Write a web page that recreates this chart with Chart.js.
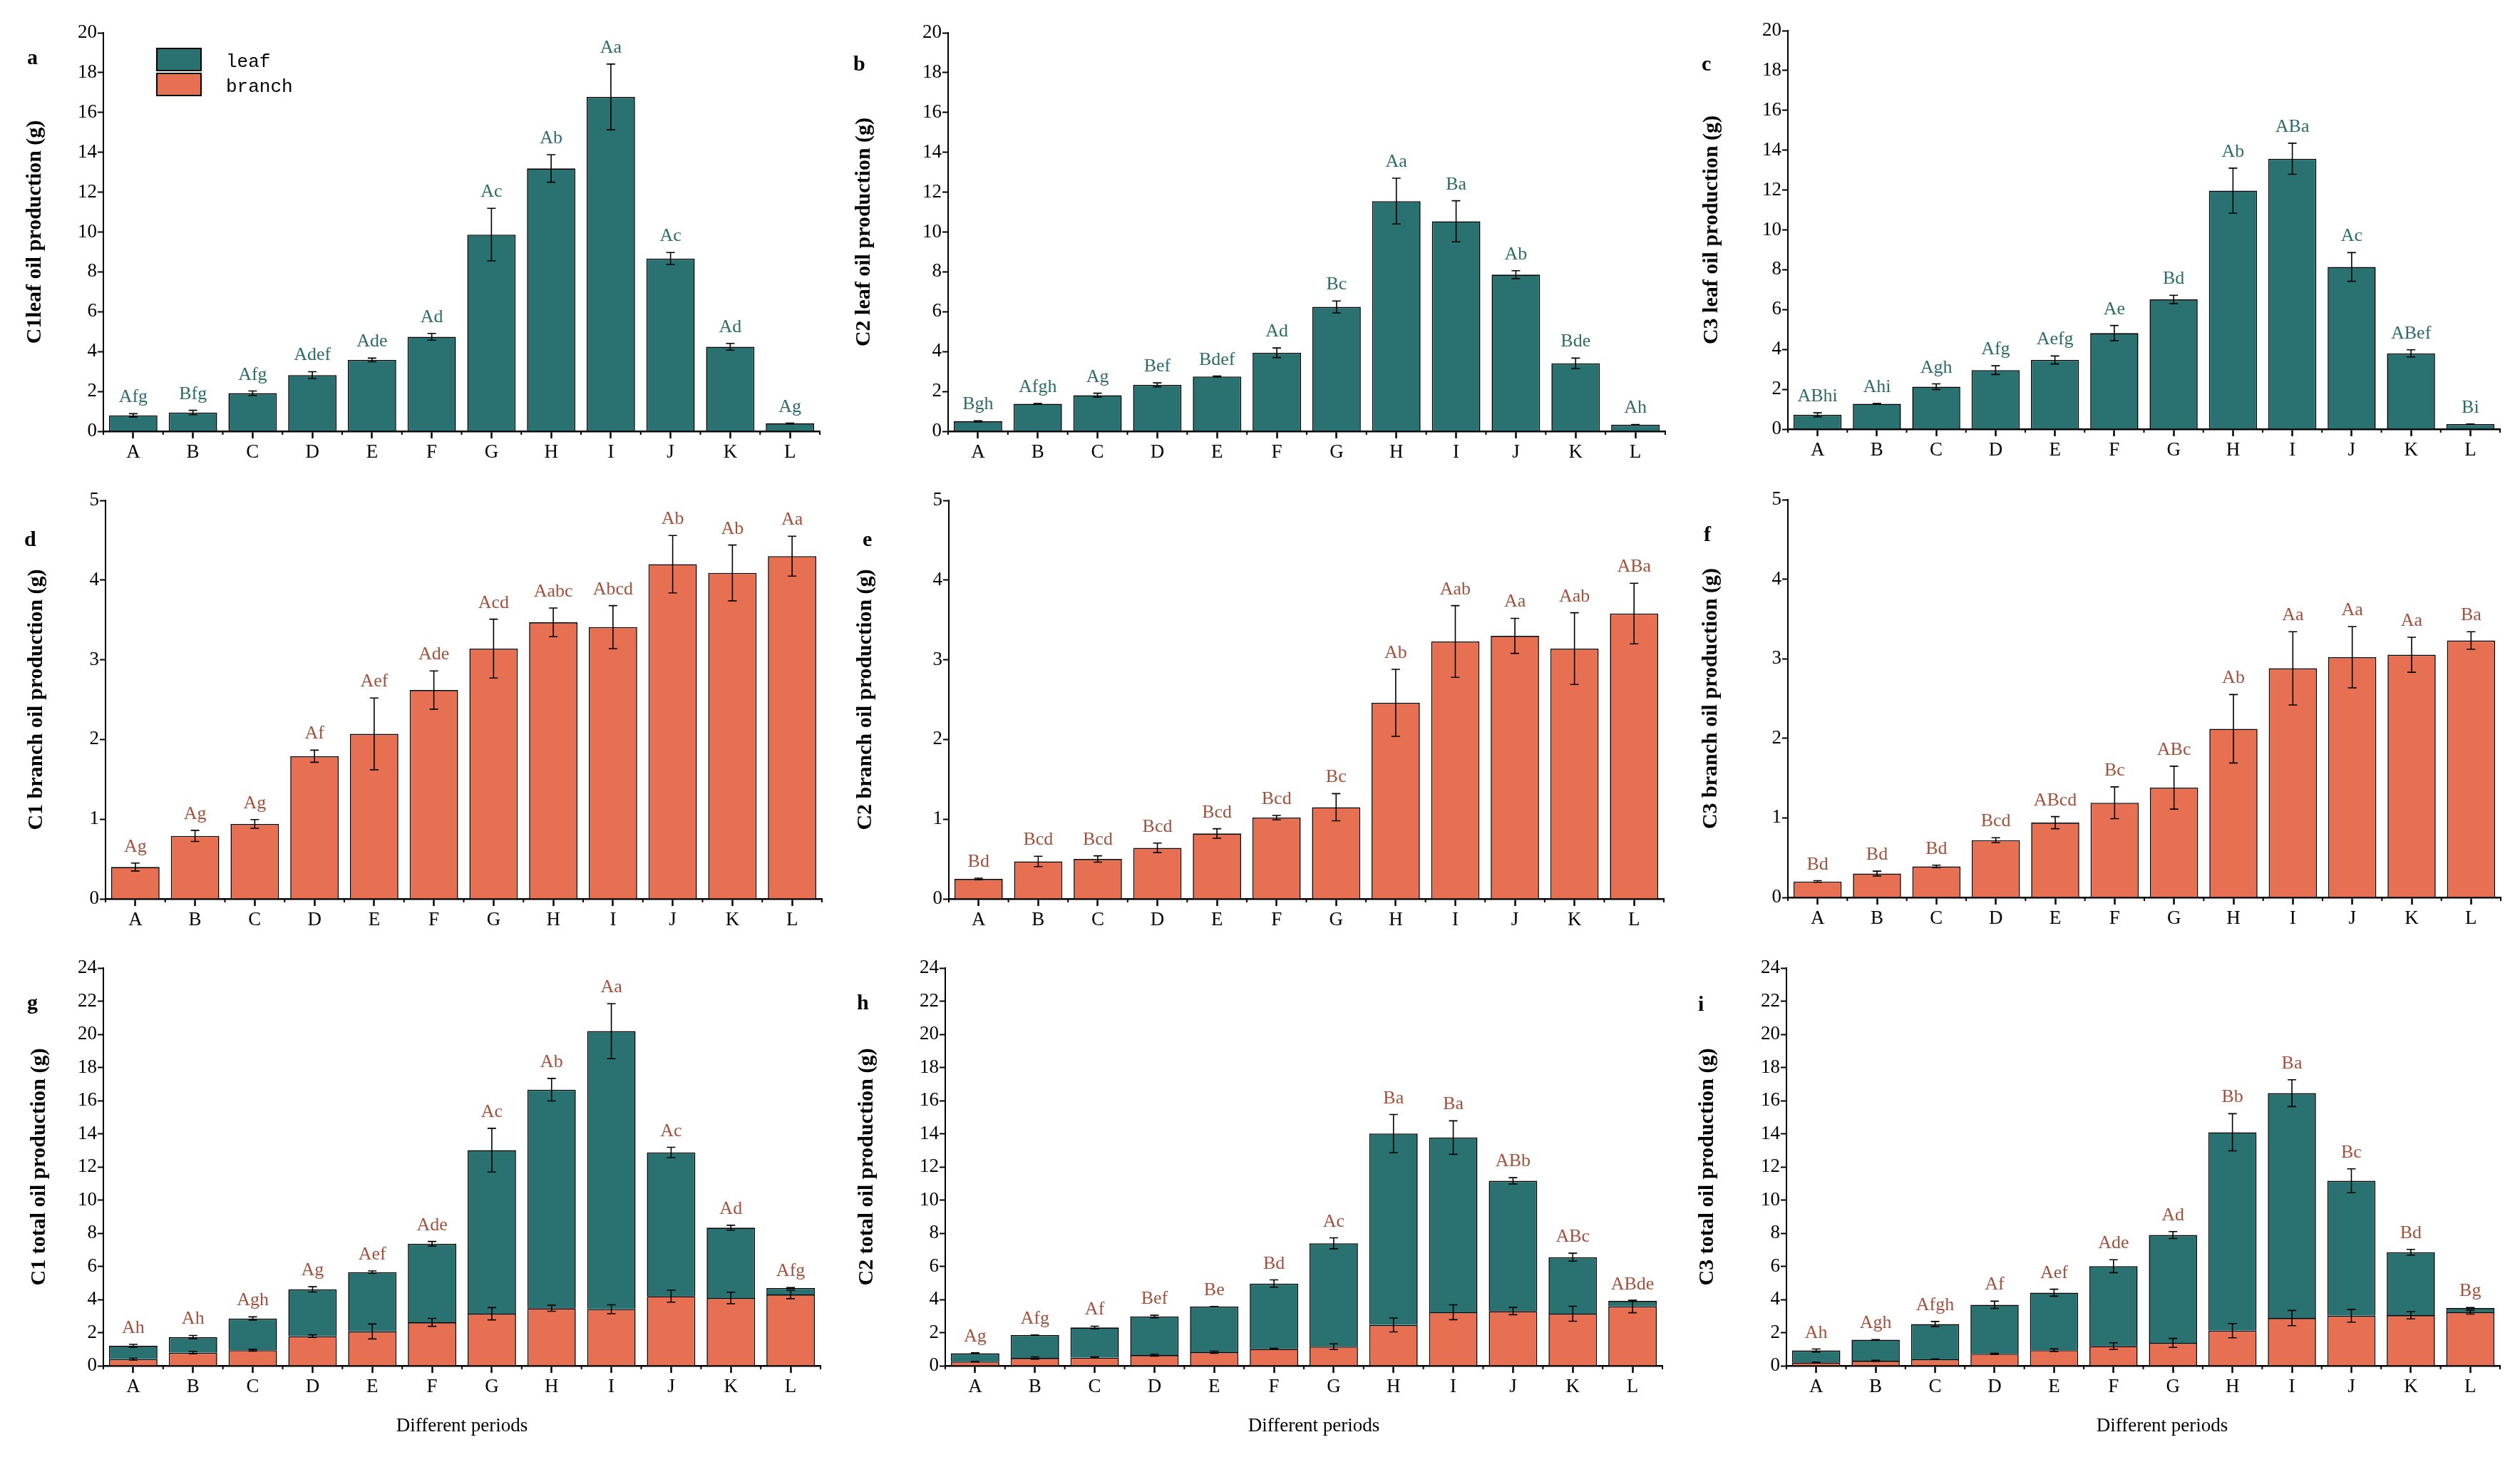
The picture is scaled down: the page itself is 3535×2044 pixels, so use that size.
<!DOCTYPE html>
<html>
<head>
<meta charset="utf-8">
<script src="https://cdn.jsdelivr.net/npm/chart.js@4.4.1/dist/chart.umd.min.js"></script>
<style>
  html, body { margin: 0; padding: 0; background: #fff; }
  body { width: 3535px; height: 2044px; position: relative; overflow: hidden; }
  canvas { position: absolute; }
</style>
</head>
<body>
<script>
// ── Data (g) ──────────────────────────────────────────────────────
const periods = ['A', 'B', 'C', 'D', 'E', 'F', 'G', 'H', 'I', 'J', 'K', 'L'];

const leafC1    = [0.80, 0.94, 1.91, 2.82, 3.58, 4.74, 9.87, 13.19, 16.78, 8.67, 4.24, 0.39];
const leafC1Err = [0.08, 0.11, 0.11, 0.17, 0.09, 0.17, 1.32, 0.69, 1.65, 0.30, 0.17, 0.02];
const leafC1Sig = ['Afg', 'Bfg', 'Afg', 'Adef', 'Ade', 'Ad', 'Ac', 'Ab', 'Aa', 'Ac', 'Ad', 'Ag'];

const leafC2    = [0.50, 1.38, 1.81, 2.33, 2.75, 3.94, 6.24, 11.55, 10.54, 7.86, 3.41, 0.33];
const leafC2Err = [0.03, 0.01, 0.10, 0.10, 0.02, 0.24, 0.30, 1.15, 1.03, 0.20, 0.26, 0.01];
const leafC2Sig = ['Bgh', 'Afgh', 'Ag', 'Bef', 'Bdef', 'Ad', 'Bc', 'Aa', 'Ba', 'Ab', 'Bde', 'Ah'];

const leafC3    = [0.72, 1.27, 2.13, 2.96, 3.47, 4.82, 6.51, 11.97, 13.57, 8.14, 3.80, 0.25];
const leafC3Err = [0.10, 0.02, 0.14, 0.22, 0.20, 0.38, 0.21, 1.13, 0.78, 0.72, 0.18, 0.01];
const leafC3Sig = ['ABhi', 'Ahi', 'Agh', 'Afg', 'Aefg', 'Ae', 'Bd', 'Ab', 'ABa', 'Ac', 'ABef', 'Bi'];

const branchC1    = [0.40, 0.79, 0.94, 1.79, 2.07, 2.62, 3.14, 3.47, 3.41, 4.20, 4.09, 4.30];
const branchC1Err = [0.05, 0.07, 0.055, 0.076, 0.45, 0.24, 0.37, 0.18, 0.27, 0.36, 0.35, 0.25];
const branchC1Sig = ['Ag', 'Ag', 'Ag', 'Af', 'Aef', 'Ade', 'Acd', 'Aabc', 'Abcd', 'Ab', 'Ab', 'Aa'];

const branchC2    = [0.25, 0.47, 0.50, 0.64, 0.82, 1.02, 1.15, 2.46, 3.23, 3.30, 3.14, 3.58];
const branchC2Err = [0.01, 0.065, 0.04, 0.06, 0.06, 0.027, 0.17, 0.42, 0.45, 0.22, 0.45, 0.38];
const branchC2Sig = ['Bd', 'Bcd', 'Bcd', 'Bcd', 'Bcd', 'Bcd', 'Bc', 'Ab', 'Aab', 'Aa', 'Aab', 'ABa'];

const branchC3    = [0.20, 0.30, 0.39, 0.72, 0.94, 1.19, 1.38, 2.12, 2.88, 3.02, 3.05, 3.23];
const branchC3Err = [0.01, 0.03, 0.015, 0.03, 0.076, 0.20, 0.27, 0.43, 0.46, 0.385, 0.22, 0.11];
const branchC3Sig = ['Bd', 'Bd', 'Bd', 'Bcd', 'ABcd', 'Bc', 'ABc', 'Ab', 'Aa', 'Aa', 'Aa', 'Ba'];

// totals are leaf + branch stacked; only their error bars and letters are separate
const totalC1Err = [0.09, 0.10, 0.10, 0.16, 0.07, 0.14, 1.32, 0.68, 1.66, 0.31, 0.15, 0.03];
const totalC1Sig = ['Ah', 'Ah', 'Agh', 'Ag', 'Aef', 'Ade', 'Ac', 'Ab', 'Aa', 'Ac', 'Ad', 'Afg'];

const totalC2Err = [0.03, 0.01, 0.08, 0.08, 0.01, 0.22, 0.33, 1.15, 1.01, 0.19, 0.24, 0.02];
const totalC2Sig = ['Ag', 'Afg', 'Af', 'Bef', 'Be', 'Bd', 'Ac', 'Ba', 'Ba', 'ABb', 'ABc', 'ABde'];

const totalC3Err = [0.09, 0.01, 0.15, 0.22, 0.21, 0.39, 0.21, 1.12, 0.81, 0.72, 0.17, 0.03];
const totalC3Sig = ['Ah', 'Agh', 'Afgh', 'Af', 'Aef', 'Ade', 'Ad', 'Bb', 'Ba', 'Bc', 'Bd', 'Bg'];

// ── Styles ────────────────────────────────────────────────────────
const TEAL = '#297271';
const ORANGE = '#e87052';
const LEAF_TXT = '#2b6b69';
const BRANCH_TXT = '#a3503b';
const SERIF = "'Liberation Serif', 'Times New Roman', serif";

const PAD_L = 150, PAD_T = 45, PAD_R = 30, AXIS_H = 60;

// ── Panel layout (page px) ────────────────────────────────────────
const panels = [
  { letter: 'a', lx: 38,   ly: 90,   x0: 145,  x1: 1150, y0: 46,   y1: 605,  max: 20, step: 2, titleX: 49,
    title: 'C1leaf oil production (g)', kind: 'leaf', values: leafC1, err: leafC1Err, sig: leafC1Sig, legend: true },
  { letter: 'b', lx: 1197, ly: 99,   x0: 1330, x1: 2336, y0: 46,   y1: 605,  max: 20, step: 2, titleX: 1212,
    title: 'C2 leaf oil production (g)', kind: 'leaf', values: leafC2, err: leafC2Err, sig: leafC2Sig },
  { letter: 'c', lx: 2387, ly: 99,   x0: 2508, x1: 3507, y0: 43,   y1: 602,  max: 20, step: 2, titleX: 2401,
    title: 'C3 leaf oil production (g)', kind: 'leaf', values: leafC3, err: leafC3Err, sig: leafC3Sig },
  { letter: 'd', lx: 34,   ly: 766,  x0: 148,  x1: 1153, y0: 702,  y1: 1261, max: 5, step: 1, titleX: 51,
    title: 'C1 branch oil production (g)', kind: 'branch', values: branchC1, err: branchC1Err, sig: branchC1Sig },
  { letter: 'e', lx: 1210, ly: 766,  x0: 1331, x1: 2334, y0: 702,  y1: 1261, max: 5, step: 1, titleX: 1214,
    title: 'C2 branch oil production (g)', kind: 'branch', values: branchC2, err: branchC2Err, sig: branchC2Sig },
  { letter: 'f', lx: 2390, ly: 759,  x0: 2508, x1: 3508, y0: 701,  y1: 1259, max: 5, step: 1, titleX: 2400,
    title: 'C3 branch oil production (g)', kind: 'branch', values: branchC3, err: branchC3Err, sig: branchC3Sig },
  { letter: 'g', lx: 38,   ly: 1416, x0: 145,  x1: 1151, y0: 1358, y1: 1916, max: 24, step: 2, titleX: 55, periodX: 648,
    title: 'C1 total oil production (g)', kind: 'total', leaf: leafC1, branch: branchC1, branchErr: branchC1Err, err: totalC1Err, sig: totalC1Sig },
  { letter: 'h', lx: 1202, ly: 1416, x0: 1326, x1: 2332, y0: 1358, y1: 1916, max: 24, step: 2, titleX: 1216, periodX: 1843,
    title: 'C2 total oil production (g)', kind: 'total', leaf: leafC2, branch: branchC2, branchErr: branchC2Err, err: totalC2Err, sig: totalC2Sig },
  { letter: 'i', lx: 2382, ly: 1418, x0: 2506, x1: 3507, y0: 1358, y1: 1916, max: 24, step: 2, titleX: 2395, periodX: 3033,
    title: 'C3 total oil production (g)', kind: 'total', leaf: leafC3, branch: branchC3, branchErr: branchC3Err, err: totalC3Err, sig: totalC3Sig }
];

// ── Error bars, letters, titles, minor ticks ─────────────────────
function errorBar(ctx, x, yTop, yBot) {
  ctx.beginPath();
  ctx.moveTo(x, yTop); ctx.lineTo(x, yBot);
  ctx.moveTo(x - 6, yTop); ctx.lineTo(x + 6, yTop);
  ctx.moveTo(x - 6, yBot); ctx.lineTo(x + 6, yBot);
  ctx.stroke();
}

const decor = {
  id: 'decor',
  afterDraw(chart, args, opts) {
    const p = opts.panel;
    const ctx = chart.ctx;
    const xs = chart.scales.x, ys = chart.scales.y;
    const ox = p.x0 - PAD_L, oy = p.y0 - PAD_T;

    ctx.save();
    ctx.strokeStyle = '#000';
    ctx.lineWidth = 1.6;

    // minor ticks at category boundaries
    const n = periods.length;
    ctx.lineWidth = 2;
    for (let i = 0; i <= n; i++) {
      const bx = xs.left + i * (xs.right - xs.left) / n;
      ctx.beginPath(); ctx.moveTo(bx, ys.bottom); ctx.lineTo(bx, ys.bottom + 5); ctx.stroke();
    }
    ctx.lineWidth = 1.6;

    const sigColor = p.kind === 'leaf' ? LEAF_TXT : BRANCH_TXT;
    ctx.font = `26px ${SERIF}`;
    ctx.textAlign = 'center';
    ctx.textBaseline = 'alphabetic';

    periods.forEach((_, i) => {
      const x = xs.getPixelForValue(i);
      let top;
      if (p.kind === 'total') {
        const b = p.branch[i], be = p.branchErr[i];
        errorBar(ctx, x, ys.getPixelForValue(b + be), ys.getPixelForValue(b - be));
        top = b + p.leaf[i];
      } else {
        top = p.values[i];
      }
      const e = p.err[i];
      const yTop = ys.getPixelForValue(top + e);
      errorBar(ctx, x, yTop, ys.getPixelForValue(top - e));
      ctx.fillStyle = sigColor;
      ctx.fillText(p.sig[i], x, yTop - 16);
    });

    // y-axis title
    ctx.fillStyle = '#000';
    ctx.font = `bold 30px ${SERIF}`;
    ctx.save();
    ctx.translate(p.titleX - ox, (p.y0 + p.y1) / 2 - oy);
    ctx.rotate(-Math.PI / 2);
    ctx.textBaseline = 'middle';
    ctx.fillText(p.title, 0, 0);
    ctx.restore();

    // panel letter
    ctx.textAlign = 'left';
    ctx.fillText(p.letter, p.lx - ox, p.ly - oy);

    // x-axis title on the bottom row
    if (p.periodX) {
      ctx.font = `27px ${SERIF}`;
      ctx.textAlign = 'center';
      ctx.fillText('Different periods', p.periodX - ox, 2008 - oy);
    }

    // legend (panel a only)
    if (p.legend) {
      ctx.lineWidth = 2;
      [[TEAL, 'leaf', 68], [ORANGE, 'branch', 103]].forEach(([c, t, y]) => {
        ctx.fillStyle = c;
        ctx.fillRect(220 - ox, y - oy, 62, 31);
        ctx.strokeRect(220 - ox, y - oy, 62, 31);
        ctx.fillStyle = '#000';
        ctx.font = `26px 'Liberation Mono', monospace`;
        ctx.textAlign = 'left';
        ctx.fillText(t, 317 - ox, y + 26 - oy);
      });
    }
    ctx.restore();
  }
};

// ── Build charts ──────────────────────────────────────────────────
function barSet(label, data, color) {
  return {
    label, data,
    backgroundColor: color,
    borderColor: '#000',
    borderWidth: 1.6,
    barPercentage: 0.81,
    categoryPercentage: 1.0
  };
}

panels.forEach(p => {
  const bottomRow = p.kind === 'total';
  const canvas = document.createElement('canvas');
  const w = (p.x1 - p.x0) + PAD_L + PAD_R;
  const h = (p.y1 - p.y0) + PAD_T + AXIS_H + (bottomRow ? 60 : 0);
  canvas.width = w; canvas.height = h;
  canvas.style.left = (p.x0 - PAD_L) + 'px';
  canvas.style.top = (p.y0 - PAD_T) + 'px';
  canvas.style.width = w + 'px';
  canvas.style.height = h + 'px';
  document.body.appendChild(canvas);

  let datasets;
  if (bottomRow) {
    datasets = [barSet('branch', p.branch, ORANGE), barSet('leaf', p.leaf, TEAL)];
  } else {
    datasets = [barSet(p.kind, p.values, p.kind === 'leaf' ? TEAL : ORANGE)];
  }

  new Chart(canvas.getContext('2d'), {
    type: 'bar',
    data: { labels: periods, datasets },
    options: {
      responsive: false,
      devicePixelRatio: 1,
      animation: false,
      events: [],
      layout: { padding: { left: 0, top: PAD_T, right: PAD_R, bottom: bottomRow ? 60 : 0 } },
      plugins: { legend: { display: false }, tooltip: { enabled: false }, decor: { panel: p } },
      scales: {
        x: {
          stacked: bottomRow,
          grid: { offset: false, drawOnChartArea: false, drawTicks: true, tickLength: 10, tickWidth: 2.5, tickColor: '#000' },
          border: { display: true, color: '#000', width: 2.5 },
          ticks: { color: '#000', padding: 4, font: { family: SERIF, size: 27 } },
          afterFit: s => { s.height = AXIS_H; }
        },
        y: {
          stacked: bottomRow,
          min: 0, max: p.max,
          grid: { drawOnChartArea: false, drawTicks: true, tickLength: 8, tickWidth: 2, tickColor: '#000' },
          border: { display: true, color: '#000', width: 2 },
          ticks: { stepSize: p.step, color: '#000', padding: 1, font: { family: SERIF, size: 27 } },
          afterFit: s => { s.width = PAD_L; }
        }
      }
    },
    plugins: [decor]
  });
});
</script>
</body>
</html>
